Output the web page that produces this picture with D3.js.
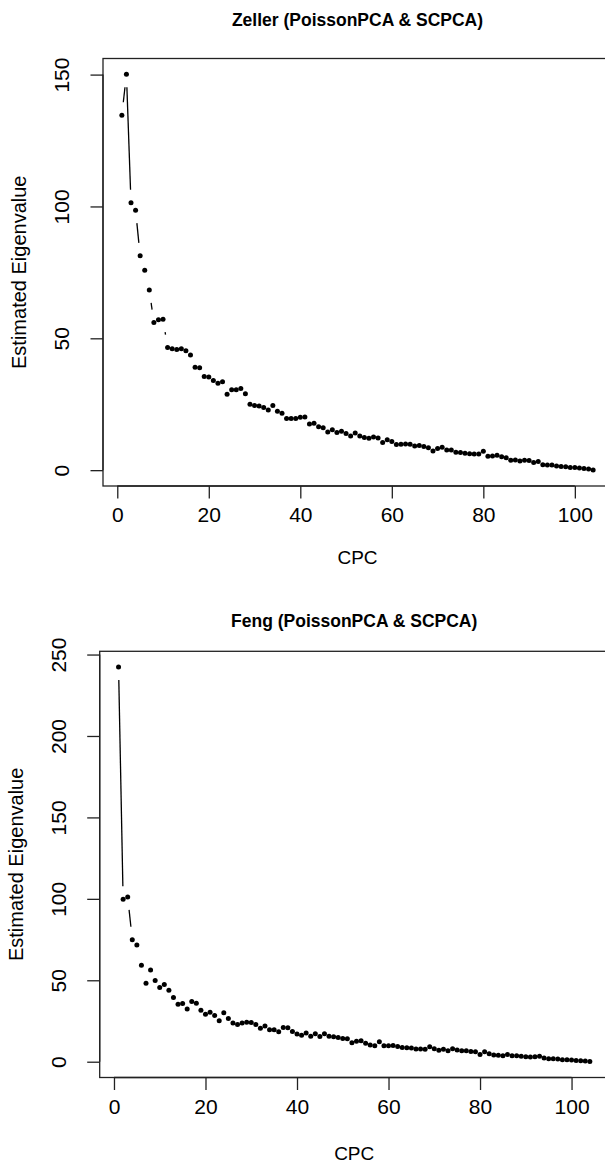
<!DOCTYPE html>
<html>
<head>
<meta charset="utf-8">
<script src="https://cdn.jsdelivr.net/npm/d3@7"></script>
<style>
  html, body { margin: 0; padding: 0; background: #fff; }
  svg { display: block; }
  text { font-family: "Liberation Sans", Arial, Helvetica, sans-serif; fill: #000; }
</style>
</head>
<body>
<svg id="chart" width="605" height="1163"></svg>
<script>
// ---- data ----
const cpc = d3.range(1, 105);

const zellerValues = [
  134.6, 150.1, 101.4, 98.6, 81.3, 75.8, 68.3, 56.0, 57.0, 57.2,
  46.5, 46.0, 45.8, 46.0, 45.3, 43.7, 39.0, 38.8, 35.5, 35.3,
  34.0, 33.0, 33.5, 28.8, 30.5, 30.5, 31.0, 29.0, 25.0, 24.5,
  24.3, 23.8, 22.8, 24.5, 22.3, 21.6, 19.6, 19.6, 19.6, 20.1,
  20.2, 17.5, 17.8, 16.5, 16.1, 14.5, 15.3, 14.3, 14.8, 13.9,
  13.0, 14.1, 13.0, 12.4, 12.1, 12.6, 12.2, 10.5, 11.5, 10.9,
  9.7, 9.8, 9.9, 9.8, 9.2, 9.4, 9.0, 8.5, 7.3, 8.2,
  8.7, 7.6, 7.6, 6.8, 6.7, 6.4, 6.2, 6.1, 6.1, 7.2,
  5.3, 5.4, 5.7, 5.1, 4.7, 3.8, 3.9, 3.5, 3.8, 3.7,
  2.9, 3.3, 2.1, 2.0, 2.0, 1.6, 1.4, 1.3, 1.0, 1.0,
  0.8, 0.6, 0.4, 0.1
];

const fengValues = [
  242.3, 99.8, 101.2, 74.9, 71.6, 59.2, 48.2, 56.3, 49.8, 45.5,
  47.4, 43.9, 39.4, 35.3, 35.7, 32.3, 37.0, 35.9, 31.6, 29.2,
  30.4, 28.4, 25.1, 30.0, 26.5, 23.7, 22.9, 23.7, 24.3, 24.1,
  22.9, 20.6, 22.0, 19.6, 19.6, 18.4, 21.0, 20.8, 18.6, 17.0,
  16.3, 17.6, 15.7, 17.1, 15.5, 17.1, 15.7, 15.3, 14.9, 14.3,
  14.1, 11.6, 12.5, 12.9, 11.3, 10.2, 9.8, 12.2, 9.8, 9.8,
  10.0, 9.4, 8.8, 8.6, 8.4, 7.8, 7.8, 7.6, 9.2, 8.0,
  7.0, 7.6, 6.7, 8.0, 7.2, 6.7, 6.7, 6.3, 6.1, 4.5,
  6.1, 4.9, 4.1, 3.9, 3.7, 4.5, 3.7, 3.7, 3.3, 3.1,
  2.9, 3.1, 3.3, 2.3, 1.8, 1.8, 1.6, 1.2, 1.2, 1.0,
  0.8, 0.6, 0.4, 0.1
];

const xTicks = [0, 20, 40, 60, 80, 100];
const zellerYTicks = [0, 50, 100, 150];
const fengYTicks = [0, 50, 100, 150, 200, 250];

const titles = ["Zeller (PoissonPCA & SCPCA)", "Feng (PoissonPCA & SCPCA)"];
const xLabel = "CPC";
const yLabel = "Estimated Eigenvalue";

// ---- drawing ----
const svg = d3.select("#chart");

function rPad(ext) {
  const d = (ext[1] - ext[0]) * 0.04;
  return [ext[0] - d, ext[1] + d];
}

function panel(cfg) {
  const { values, yTicks, title, box } = cfg;
  const g = svg.append("g");
  const x = d3.scaleLinear().domain(rPad(d3.extent(cpc))).range([box.left, box.right]);
  const y = d3.scaleLinear().domain(rPad([0, d3.max(values)])).range([box.bottom, box.top]);

  // box
  g.append("rect")
    .attr("x", box.left).attr("y", box.top)
    .attr("width", box.right - box.left).attr("height", box.bottom - box.top)
    .attr("fill", "none").attr("stroke", "#222").attr("stroke-width", 1.3);

  // x axis
  const xAxis = d3.axisBottom(x).tickValues(xTicks).tickSize(12.5).tickSizeOuter(0).tickPadding(9)
    .tickFormat(d3.format("d"));
  const gx = g.append("g").attr("transform", `translate(0,${box.bottom})`).call(xAxis);
  gx.select(".domain").attr("d", `M${x(xTicks[0])},0H${x(xTicks[xTicks.length - 1])}`)
    .attr("stroke", "#222").attr("stroke-width", 1.3);
  gx.selectAll(".tick line").attr("stroke", "#222").attr("stroke-width", 1.3);
  gx.selectAll(".tick text").attr("font-size", 21).attr("fill", "#000")
    .attr("font-family", "Liberation Sans, Arial, sans-serif");

  // y axis
  const yAxis = d3.axisLeft(y).tickValues(yTicks).tickSize(12.5).tickSizeOuter(0).tickFormat(d3.format("d"));
  const gy = g.append("g").attr("transform", `translate(${box.left},0)`).call(yAxis);
  gy.select(".domain").attr("d", `M0,${y(yTicks[0])}V${y(yTicks[yTicks.length - 1])}`)
    .attr("stroke", "#222").attr("stroke-width", 1.3);
  gy.selectAll(".tick line").attr("stroke", "#222").attr("stroke-width", 1.3);
  gy.selectAll(".tick text")
    .attr("x", null).attr("dy", null)
    .attr("text-anchor", "middle")
    .attr("font-size", 21).attr("fill", "#000")
    .attr("font-family", "Liberation Sans, Arial, sans-serif")
    .attr("transform", "translate(-34,0) rotate(-90)");

  // lines with gaps (type = "b")
  const gap = 13;
  const pts = cpc.map((c, i) => [x(c), y(values[i])]);
  for (let i = 1; i < pts.length; i++) {
    const [x0, y0] = pts[i - 1], [x1, y1] = pts[i];
    const len = Math.hypot(x1 - x0, y1 - y0);
    const f = gap / len;
    if (f < 0.5) {
      g.append("line")
        .attr("x1", x0 + f * (x1 - x0)).attr("y1", y0 + f * (y1 - y0))
        .attr("x2", x1 - f * (x1 - x0)).attr("y2", y1 - f * (y1 - y0))
        .attr("stroke", "#000").attr("stroke-width", 1.3);
    }
  }

  // points
  g.selectAll("circle.pt").data(values).join("circle")
    .attr("class", "pt")
    .attr("cx", (d, i) => x(cpc[i]))
    .attr("cy", d => y(d))
    .attr("r", 2.5)
    .attr("fill", "#000");

  // titles
  const cx = (box.left + box.right) / 2;
  g.append("text").attr("x", cx).attr("y", box.top - cfg.titleOff)
    .attr("text-anchor", "middle").attr("font-size", 17.5).attr("font-weight", "bold")
    .text(title);
  g.append("text").attr("x", cx).attr("y", box.bottom + cfg.xlabOff)
    .attr("text-anchor", "middle").attr("font-size", 19)
    .text(xLabel);
  g.append("text")
    .attr("transform", `translate(${box.left - cfg.ylabOff},${(box.top + box.bottom) / 2}) rotate(-90)`)
    .attr("text-anchor", "middle").attr("font-size", 20)
    .text(yLabel);
}

panel({
  values: zellerValues, yTicks: zellerYTicks, title: titles[0],
  box: { left: 103, right: 612, top: 58.5, bottom: 486 },
  titleOff: 33, xlabOff: 78, ylabOff: 77
});

panel({
  values: fengValues, yTicks: fengYTicks, title: titles[1],
  box: { left: 99.7, right: 608.7, top: 651.3, bottom: 1077.5 },
  titleOff: 24, xlabOff: 82, ylabOff: 77
});
</script>
</body>
</html>
